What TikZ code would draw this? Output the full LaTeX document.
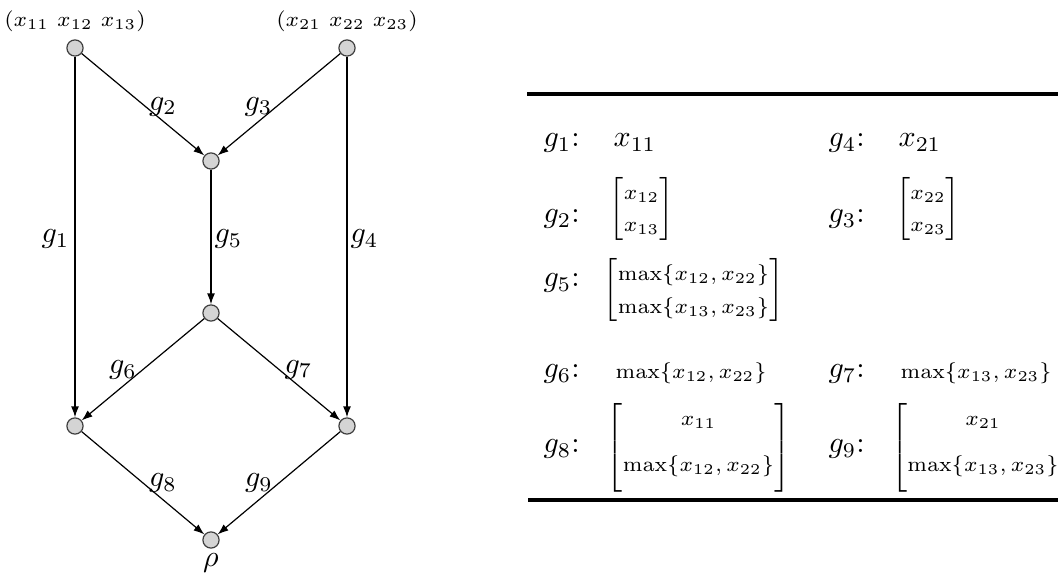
\documentclass[tikz,border=0pt]{standalone}
\usepackage{amsmath}
\usetikzlibrary{arrows.meta}
\tikzset{
  vtx/.style={circle, draw=black!75, fill=black!17, line width=0.4pt, minimum size=5.4pt, inner sep=0pt},
  conn/.style={-{Latex[length=3.6pt,width=2.6pt]}, line width=0.4pt},
  elab/.style={inner sep=0pt, font=\normalsize},
  toplab/.style={inner sep=0pt, font=\scriptsize, anchor=base},
  tlab/.style={inner sep=0pt, anchor=base west, font=\normalsize},
  tval/.style={inner sep=0pt, font=\scriptsize},
  trule/.style={line width=1.15pt},
}
\begin{document}
\begin{tikzpicture}[x={(0.33333pt,0)}, y={(0,-0.33333pt)}]
\useasboundingbox (0,0) rectangle (1058,578);
\clip (0,0) rectangle (1058,578);
% ---------- graph ----------
\node[vtx] (A) at (75,48) {};
\node[vtx] (B) at (347,48) {};
\node[vtx] (C) at (211,161) {};
\node[vtx] (D) at (211,313) {};
\node[vtx] (E) at (75,426) {};
\node[vtx] (F) at (347,426) {};
\node[vtx] (G) at (211,540) {};
\node[toplab] (lA) at (75,27) {$(x_{11}\ x_{12}\ x_{13})$};
\node[toplab] (lB) at (347,27) {$(x_{21}\ x_{22}\ x_{23})$};
\node[inner sep=0pt, anchor=base] (rho) at (211,567) {$\rho$};
\draw[conn] (A) -- node[elab, midway, anchor=base east, shift={(-5,6)}] {$g_1$} (E);
\draw[conn] (A) -- node[elab, midway, shift={(20,2)}] {$g_2$} (C);
\draw[conn] (B) -- node[elab, midway, shift={(-20.5,2)}] {$g_3$} (C);
\draw[conn] (B) -- node[elab, midway, anchor=base west, shift={(3,6)}] {$g_4$} (F);
\draw[conn] (C) -- node[elab, midway, anchor=base west, shift={(3,6)}] {$g_5$} (D);
\draw[conn] (D) -- node[elab, midway, shift={(-20,0.5)}] {$g_6$} (E);
\draw[conn] (D) -- node[elab, midway, shift={(19.5,0)}] {$g_7$} (F);
\draw[conn] (E) -- node[elab, midway, shift={(20,0)}] {$g_8$} (G);
\draw[conn] (F) -- node[elab, midway, shift={(-20,0)}] {$g_9$} (G);
% ---------- table ----------
\coordinate (rt1) at (527,94);
\coordinate (rt2) at (1058,94);
\coordinate (rb1) at (528,500);
\coordinate (rb2) at (1058,500);
\draw[trule] (rt1) -- (rt2);
\draw[trule] (rb1) -- (rb2);
\node[tlab] (t1) at (543,147) {$g_1$:};
\node[tlab] (v1) at (613,147) {$x_{11}$};
\node[tlab] (t4) at (828,147) {$g_4$:};
\node[tlab] (v4) at (898,147) {$x_{21}$};
\node[tlab] (t2) at (543,223) {$g_2$:};
\node[tval] (v2) at (641.5,209) {$\renewcommand{\arraystretch}{1.33}\left[\begin{array}{@{}c@{}}x_{12}\\x_{13}\end{array}\right]$};
\node[tlab] (t3) at (828,223) {$g_3$:};
\node[tval] (v3) at (928,209) {$\renewcommand{\arraystretch}{1.33}\left[\begin{array}{@{}c@{}}x_{22}\\x_{23}\end{array}\right]$};
\node[tlab] (t5) at (543,287) {$g_5$:};
\node[tval] (v5) at (693.5,290) {$\renewcommand{\arraystretch}{1.375}\left[\begin{array}{@{}c@{}}\max\{x_{12},x_{22}\}\\\max\{x_{13},x_{23}\}\end{array}\right]$};
\node[tlab] (t6) at (543,378) {$g_6$:};
\node[tval, anchor=base west] (v6) at (615,379) {$\max\{x_{12},x_{22}\}$};
\node[tlab] (t7) at (828,378) {$g_7$:};
\node[tval, anchor=base west] (v7) at (900,379) {$\max\{x_{13},x_{23}\}$};
\node[tlab] (t8) at (543,453) {$g_8$:};
\node[tval] (v8) at (698.5,448) {$\renewcommand{\arraystretch}{1.31}\left[\begin{array}{@{}c@{}}x_{11}\\[4.85pt]\max\{x_{12},x_{22}\}\vrule depth 7.33pt width 0pt height 0pt\end{array}\right]$};
\node[tlab] (t9) at (828,453) {$g_9$:};
\node[tval] (v9) at (983,448) {$\renewcommand{\arraystretch}{1.31}\left[\begin{array}{@{}c@{}}x_{21}\\[4.85pt]\max\{x_{13},x_{23}\}\vrule depth 7.33pt width 0pt height 0pt\end{array}\right]$};
\end{tikzpicture}
\end{document}
